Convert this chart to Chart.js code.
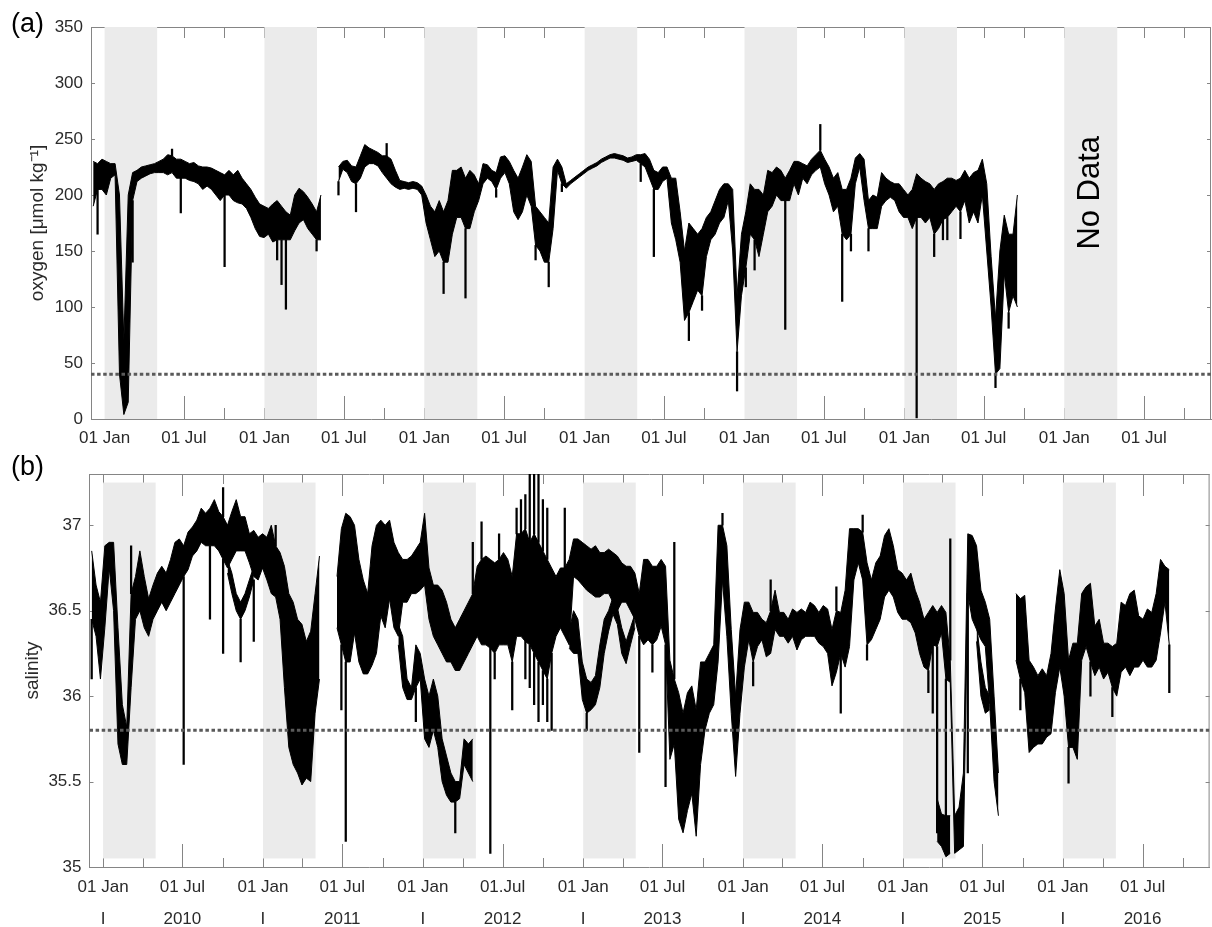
<!DOCTYPE html>
<html>
<head>
<meta charset="utf-8">
<script src="https://cdn.jsdelivr.net/npm/chart.js@4.4.1/dist/chart.umd.min.js"></script>
<style>
  html, body { margin: 0; padding: 0; background: #fff; }
  #wrap { position: relative; width: 1212px; height: 927px; overflow: hidden; background: #fff; }
  #wrap canvas { position: absolute; left: 0; }
  #oxyChart { top: 0; }
  #salChart { top: 455px; }
</style>
</head>
<body>
<div id="wrap">
  <canvas id="oxyChart" width="1212" height="455"></canvas>
  <canvas id="salChart" width="1212" height="472"></canvas>
</div>
<script>
// ------------------------------
// DATA
// ------------------------------
// day 0 = 01 Dec 2009; each bin covers 10 days: upper / lower edge of the
// dense part of the record, isolated excursions are listed as spikes
const START = Date.UTC(2009, 11, 1);
const DAY = 86400000;
const dayOf = (y, m, d) => (Date.UTC(y, m - 1, d) - START) / DAY;
const totalDays = dayOf(2016, 12, 1);
const binDays = 10;

const oxygenHigh = [
  230, 228, 232, 230, 228, 228, 200, 70, 200, 220,
  222, 225, 226, 227, 228, 230, 232, 236, 235, 232,
  232, 230, 228, 229, 226, 225, 225, 224, 222, 220,
  218, 222, 218, 222, 215, 210, 205, 198, 192, 190,
  188, 192, 195, 190, 185, 182, 200, 206, 203, 198,
  192, 185, 200, null, null, null, 225, 230, 231, 226,
  225, 235, 245, 242, 240, 238, 235, 235, 232, 222,
  213, 212, 211, 212, 211, 208, 200, 190, 185, 195,
  185, 195, 222, 222, 225, 215, 222, 218, 210, 228,
  227, 222, 220, 234, 235, 230, 222, 215, 225, 236,
  230, 190, 185, 180, 175, 225, 232, 225, 210, 213,
  216, 219, 222, 225, 227, 229, 232, 234, 236, 237,
  236, 235, 233, 234, 236, 236, 237, 232, 222, 220,
  225, 225, 215, 215, 185, 150, 175, 170, 165, 170,
  180, 185, 195, 205, 210, 210, 205, 110, 165, 185,
  210, 205, 205, 200, 222, 220, 225, 222, 215, 222,
  230, 230, 228, 226, 232, 236, 240, 232, 225, 215,
  220, 205, 205, 215, 233, 237, 232, 195, 200, 198,
  220, 215, 212, 210, 210, 205, 200, 205, 219, 215,
  212, 210, 205, 210, 212, 215, 215, 213, 215, 222,
  215, 220, 222, 232, 210, 145, 90, 150, 182, 165,
  165, 200
];
const oxygenLow = [
  190, 205, 205, 200, 215, 218, 40, 4, 15, 195,
  212, 215, 217, 219, 220, 220, 220, 218, 220, 215,
  215, 215, 213, 212, 210, 205, 208, 205, 200, 195,
  200, 200, 195, 193, 192, 188, 180, 170, 163, 162,
  165, 158, 160, 160, 160, 160, 168, 175, 178, 170,
  165, 160, 160, null, null, null, 212, 223, 220, 212,
  210, 215, 225, 228, 228, 226, 220, 215, 210, 207,
  205, 206, 205, 206, 205, 200, 175, 160, 145, 150,
  140, 140, 165, 180, 180, 170, 170, 185, 195, 210,
  215, 212, 205, 215, 220, 210, 185, 178, 185, 200,
  190, 155, 150, 140, 140, 170, 222, 210, 206, 210,
  213, 216, 219, 222, 224, 226, 229, 231, 233, 233,
  232, 231, 229, 230, 231, 228, 225, 215, 205, 205,
  212, 215, 175, 160, 140, 88, 95, 105, 115, 110,
  145, 160, 165, 175, 180, 195, 150, 60, 110, 135,
  165, 160, 145, 165, 185, 190, 200, 195, 195, 195,
  210, 200, 215, 210, 218, 222, 225, 210, 200, 185,
  190, 165, 160, 165, 210, 225, 195, 170, 170, 170,
  190, 195, 198, 195, 185, 180, 180, 170, 180, 180,
  175, 180, 165, 170, 178, 180, 185, 190, 185, 195,
  175, 185, 175, 200, 150, 100, 40, 45, 130, 95,
  110, 100
];
// [bin, value] or [bin, value, start]
const oxygenSpikes = [
  [1, 165], [9, 140], [18, 241], [20, 184], [30, 136], [42, 142], [43, 120],
  [44, 98], [51, 150], [56, 200], [60, 185], [67, 246], [80, 112], [85, 108],
  [92, 198], [101, 142], [104, 118], [107, 203], [125, 212], [128, 145],
  [136, 70], [139, 97], [147, 25], [149, 118], [151, 133], [158, 80],
  [166, 263], [171, 105], [173, 150], [177, 150], [188, 1], [192, 145],
  [194, 160], [195, 160], [198, 161], [206, 28], [209, 81]
];

const salinityHigh = [
  36.85, 36.65, 36.55, 36.88, 36.9, 36.9, 36.4, 35.95, 35.82, 36.6,
  36.7, 36.85, 36.7, 36.57, 36.65, 36.72, 36.76, 36.72, 36.8, 36.9,
  36.92, 36.88, 36.96, 36.99, 37.03, 37.1, 37.07, 37.1, 37.15, 37.08,
  37.05, 37.0, 37.08, 37.15, 37.05, 37.05, 36.95, 36.97, 36.93, 36.95,
  36.93, 37.0, 36.88, 36.84, 36.76, 36.6, 36.55, 36.45, 36.42, 36.32,
  36.38, 36.6, 36.82, null, null, null, 36.7, 36.98, 37.07, 37.05,
  37.0, 36.8, 36.68, 36.6, 36.88, 37.0, 37.03, 37.0, 37.03, 36.9,
  36.84, 36.8, 36.8, 36.82, 36.86, 36.9, 37.07, 36.75, 36.65, 36.65,
  36.62, 36.55, 36.45, 36.4, 36.45, 36.5, 36.55, 36.6, 36.76, 36.8,
  36.82, 36.8, 36.78, 36.8, 36.84, 36.8, 36.7, 36.95, 36.95, 36.98,
  36.9, 36.95, 36.9, 36.85, 36.8, 36.75, 36.7, 36.75, 36.75, 36.8,
  36.92, 36.92, 36.9, 36.88, 36.86, 36.88, 36.84, 36.84, 36.86, 36.84,
  36.82, 36.78, 36.76, 36.76, 36.72, 36.6, 36.8, 36.8, 36.76, 36.76,
  36.8, 36.76, 36.21, 36.1, 36.02, 35.9, 36.02, 36.06, 35.92, 36.2,
  36.2, 36.25, 36.3, 37.0, 37.0, 36.88, 36.39, 36.0, 36.39, 36.55,
  36.55, 36.49, 36.49, 36.45, 36.43, 36.5, 36.62, 36.49, 36.49, 36.45,
  36.51, 36.49, 36.51, 36.49, 36.55, 36.53, 36.49, 36.53, 36.51, 36.39,
  36.5, 36.49, 36.62, 36.98, 36.98, 36.98, 36.96, 36.78, 36.68, 36.78,
  36.82, 36.94, 36.98, 36.88, 36.74, 36.72, 36.68, 36.72, 36.62, 36.55,
  36.45, 36.49, 36.53, 36.49, 36.53, 36.49, 36.21, 35.3, 35.35, 35.55,
  36.95, 36.94, 36.88, 36.62, 36.55, 36.45, 36.0, 35.55, null, null,
  null, 36.6, 36.57, 36.59, 36.21, 36.17, 36.12, 36.16, 36.12, 36.25,
  36.51, 36.74, 36.6, 36.21, 36.31, 36.31, 36.6, 36.64, 36.66, 36.41,
  36.45, 36.31, 36.31, 36.29, 36.31, 36.55, 36.53, 36.6, 36.62, 36.47,
  36.45, 36.51, 36.49, 36.6, 36.8, 36.76, 36.74
];
const salinityLow = [
  36.45, 36.35, 36.1, 36.4, 36.75, 36.5, 35.72, 35.6, 35.6, 36.05,
  36.45, 36.5, 36.4, 36.35, 36.45, 36.5, 36.55, 36.5, 36.55, 36.6,
  36.65, 36.7, 36.74, 36.82, 36.85, 36.9, 36.88, 36.88, 36.88, 36.85,
  36.8, 36.75, 36.8, 36.85, 36.85, 36.85, 36.78, 36.7, 36.68, 36.75,
  36.68, 36.6, 36.58, 36.45, 36.05, 35.7, 35.6, 35.55, 35.48, 35.52,
  35.5, 35.9, 36.1, null, null, null, 36.4, 36.3, 36.2, 36.2,
  36.37, 36.2, 36.13, 36.13, 36.18, 36.25, 36.47, 36.4, 36.57, 36.4,
  36.35, 36.55, 36.55, 36.6, 36.6, 36.62, 36.65, 36.45, 36.35, 36.3,
  36.25, 36.2, 36.2, 36.15, 36.15, 36.2, 36.25, 36.3, 36.35, 36.3,
  36.3, 36.28, 36.25, 36.3, 36.3, 36.3, 36.2, 36.35, 36.35, 36.32,
  36.3, 36.25, 36.2, 36.15, 36.1, 36.25, 36.35, 36.4, 36.35, 36.3,
  36.7, 36.68, 36.65, 36.62, 36.6, 36.58, 36.58, 36.6, 36.6, 36.55,
  36.5, 36.55, 36.55, 36.5, 36.45, 36.35, 36.3, 36.33, 36.3, 36.33,
  36.41, 36.3, 35.63, 35.72, 35.28, 35.2, 35.33, 35.43, 35.18, 35.6,
  35.8, 35.9, 35.95, 36.2, 36.68, 36.35, 35.9, 35.53, 35.9, 36.17,
  36.33, 36.2, 36.29, 36.33, 36.23, 36.25, 36.39, 36.35, 36.35, 36.31,
  36.35, 36.27, 36.33, 36.35, 36.35, 36.35, 36.31, 36.29, 36.25, 36.06,
  36.14, 36.25, 36.17, 36.29, 36.68, 36.78, 36.68, 36.3, 36.33, 36.39,
  36.45, 36.58, 36.62, 36.58, 36.49, 36.45, 36.45, 36.43, 36.37, 36.25,
  36.17, 36.15, 36.3, 36.29, 36.37, 36.1, 36.08, 35.08, 35.1, 35.12,
  36.6, 36.45, 36.39, 36.33, 36.29, 35.95, 35.5, 35.3, null, null,
  null, 36.21, 36.1, 36.02, 35.67, 35.7, 35.72, 35.72, 35.76, 35.78,
  36.02, 36.17, 36.0, 35.7, 35.7, 35.63, 36.21, 36.29, 36.2, 36.12,
  36.17, 36.1, 36.14, 36.05, 36.0, 36.14, 36.17, 36.12, 36.17, 36.17,
  36.21, 36.17, 36.17, 36.21, 36.37, 36.55, 36.3
];
// second, fresher trace where the record splits: [bin, upper, lower]
const salinitySplit = [
  [31, 36.8, 36.72], [32, 36.72, 36.6], [33, 36.6, 36.5], [34, 36.55, 36.45], [35, 36.6, 36.5],
  [36, 36.68, 36.58], [37, 36.76, 36.68],
  [70, 36.42, 36.3], [71, 36.35, 36.05], [72, 36.1, 35.98], [73, 36.05, 35.98], [74, 36.3, 36.05],
  [75, 36.25, 36.1], [76, 36.1, 35.75], [77, 36.0, 35.7], [78, 36.1, 35.8], [79, 36.0, 35.7],
  [80, 35.75, 35.5], [81, 35.65, 35.42], [82, 35.55, 35.38], [83, 35.5, 35.38], [84, 35.5, 35.4],
  [85, 35.75, 35.6], [86, 35.72, 35.55], [87, 35.75, 35.5],
  [109, 36.38, 36.28], [110, 36.5, 36.25], [111, 36.45, 36.25], [112, 36.2, 35.98], [113, 36.1, 35.9],
  [114, 36.08, 35.92], [115, 36.12, 35.95], [116, 36.3, 36.05], [117, 36.45, 36.25], [118, 36.5, 36.38],
  [119, 36.58, 36.48], [120, 36.52, 36.42], [121, 36.4, 36.25], [122, 36.32, 36.19], [123, 36.4, 36.3],
  [124, 36.48, 36.4],
  [193, 35.4, 35.15], [194, 35.31, 35.12], [195, 35.3, 35.06], [196, 35.3, 35.08],
  [202, 36.42, 36.32], [203, 36.2, 36.0], [204, 36.05, 35.9], [205, 36.0, 35.92]
];
const salinitySpikes = [
  [0, 36.1], [9, 36.88], [21, 35.6], [27, 36.45], [30, 37.22], [30, 36.25], [34, 36.2],
  [37, 36.32], [42, 37.0], [57, 35.92], [58, 35.15], [74, 35.85], [83, 35.2], [87, 36.9],
  [89, 37.02], [91, 35.08], [92, 36.1], [93, 36.95], [96, 35.92], [97, 37.1], [98, 37.15],
  [99, 37.18], [99, 36.1], [100, 37.3], [100, 36.05], [101, 37.3], [101, 35.95],
  [102, 37.3], [102, 35.85], [103, 37.15], [103, 35.95], [104, 37.1], [104, 35.85],
  [105, 35.8], [108, 37.1], [113, 35.8], [125, 35.67], [128, 36.14], [131, 35.47],
  [133, 36.9], [144, 37.07], [151, 36.06], [155, 36.68], [170, 36.64], [171, 35.9],
  [176, 37.06], [177, 36.21], [191, 36.02], [192, 35.9], [193, 35.2, 36.29],
  [195, 35.2, 36.1], [196, 36.92], [200, 35.55], [212, 35.92], [223, 35.49], [228, 36.0],
  [233, 35.88], [246, 36.02]
];

const bandYears = [2010, 2011, 2012, 2013, 2014, 2015, 2016];
const oxygenLimit = 40;
const salinityLimit = 35.8;
const oxygenTicks = [0, 50, 100, 150, 200, 250, 300, 350];
const salinityTicks = [35, 35.5, 36, 36.5, 37];

// quarterly ticks on the date axis
const xTicks = [];
for (let yr = 2009; yr <= 2016; yr++) {
  for (const m of [1, 4, 7, 10]) {
    const d = dayOf(yr, m, 1);
    if (d >= 0 && d <= totalDays) xTicks.push({ value: d, year: yr, month: m });
  }
}

function oxygenLabel(t) {
  if (t.month === 1) return '01 Jan';
  if (t.month === 7) return '01 Jul';
  return '';
}

function salinityLabel(t) {
  if (t.month === 1) return ['01 Jan', 'I'];
  if (t.month === 7) return [t.year === 2012 ? '01.Jul' : '01 Jul', String(t.year)];
  return '';
}

const binX = i => i * binDays + 5;

function edgePoints(values) {
  return values.map((v, i) => ({ x: binX(i), y: v }));
}

function splitPoints(split, col, length) {
  const vals = new Array(length).fill(null);
  split.forEach(s => { vals[s[0]] = s[col]; });
  return edgePoints(vals);
}

// each spike runs from its given start, or the nearest edge of the dense trace, out to its value
function spikeBars(spikes, hi, lo, split) {
  return spikes.map(([bin, v, start]) => {
    if (start != null) return { x: binX(bin), y: [start, v] };
    const edges = [hi[bin], lo[bin]];
    const s = split.find(r => r[0] === bin);
    if (s) edges.push(s[1], s[2]);
    const base = edges.reduce((b, e) => (Math.abs(e - v) < Math.abs(b - v) ? e : b));
    return { x: binX(bin), y: [base, v] };
  });
}

// ------------------------------
// PLUGINS
// ------------------------------
const AXIS_GREY = '#858585';
const FONT = '"Liberation Sans", Arial, Helvetica, sans-serif';
Chart.defaults.font.family = FONT;
Chart.defaults.color = '#2a2a2a';

// box, inward ticks and the Jan-Apr shading
const frame = {
  id: 'frame',
  beforeDatasetsDraw(chart, args, opts) {
    const { ctx, chartArea: a, scales: { x, y } } = chart;
    ctx.save();
    ctx.strokeStyle = AXIS_GREY;
    ctx.lineWidth = 1;
    ctx.beginPath();
    ctx.moveTo(a.left, a.top + 0.5);
    ctx.lineTo(a.right, a.top + 0.5);
    ctx.moveTo(a.right - 0.5, a.top);
    ctx.lineTo(a.right - 0.5, a.bottom);

    xTicks.forEach(t => {
      const px = Math.round(x.getPixelForValue(t.value)) + 0.5;
      const isJul = t.month === 7;
      const topLen = isJul ? opts.topJul : opts.top;
      const botLen = isJul ? opts.bottomJul : opts.bottom;
      ctx.moveTo(px, a.top);
      ctx.lineTo(px, a.top + topLen);
      ctx.moveTo(px, a.bottom);
      ctx.lineTo(px, a.bottom - botLen);
    });
    opts.yTicks.forEach(v => {
      const py = Math.round(y.getPixelForValue(v)) + 0.5;
      ctx.moveTo(a.left, py);
      ctx.lineTo(a.left + 4, py);
      ctx.moveTo(a.right, py);
      ctx.lineTo(a.right - 4, py);
    });
    ctx.stroke();

    ctx.fillStyle = '#ebebeb';
    const y0 = opts.bandTop != null ? y.getPixelForValue(opts.bandTop) : a.top;
    const y1 = opts.bandBottom != null ? y.getPixelForValue(opts.bandBottom) : a.bottom;
    bandYears.forEach(yr => {
      const x0 = x.getPixelForValue(dayOf(yr, 1, 1));
      const x1 = x.getPixelForValue(dayOf(yr, 5, 1));
      ctx.fillRect(x0, y0, x1 - x0, y1 - y0);
    });
    ctx.restore();
  }
};

// panel letter and free text
const annotate = {
  id: 'annotate',
  afterDraw(chart, args, opts) {
    const { ctx, scales: { x, y } } = chart;
    ctx.save();
    ctx.fillStyle = '#000';
    ctx.textBaseline = 'middle';
    ctx.textAlign = 'left';
    ctx.font = '27px ' + FONT;
    ctx.fillText(opts.panel, opts.panelX, opts.panelY);
    if (opts.note) {
      const px = x.getPixelForValue(opts.note.day);
      const py = y.getPixelForValue(opts.note.value);
      ctx.translate(px, py);
      ctx.rotate(-Math.PI / 2);
      ctx.textAlign = 'center';
      ctx.font = '31px ' + FONT;
      ctx.fillText(opts.note.text, 0, 0);
    }
    ctx.restore();
  }
};

function dateAxis(labelFn, height, padding, lineHeight) {
  return {
    type: 'linear',
    min: 0,
    max: totalDays,
    offset: false,
    grid: { display: false, drawTicks: false, offset: false },
    border: { display: true, color: AXIS_GREY },
    afterBuildTicks: s => { s.ticks = xTicks.map(t => ({ value: t.value })); },
    afterFit: s => { s.height = height; },
    ticks: {
      autoSkip: false,
      maxRotation: 0,
      minRotation: 0,
      padding: padding,
      font: { size: 17, lineHeight: lineHeight },
      callback: (v, i) => labelFn(xTicks[i])
    }
  };
}

function valueAxis(ticks, min, max, width, title, titlePad) {
  return {
    min: min,
    max: max,
    grid: { display: false, drawTicks: false },
    border: { display: true, color: AXIS_GREY },
    afterBuildTicks: s => { s.ticks = ticks.map(v => ({ value: v })); },
    afterFit: s => { s.width = width; },
    ticks: { padding: 8, font: { size: 17 }, callback: v => String(v) },
    title: { display: true, text: title, font: { size: 19 }, padding: { top: titlePad, bottom: 0 } }
  };
}

function traceDatasets(hi, lo, split, spikes, limit) {
  const edge = { type: 'line', borderColor: '#000', borderWidth: 1, backgroundColor: '#000', order: 1 };
  const sets = [
    {
      type: 'line',
      data: [{ x: 0, y: limit }, { x: totalDays, y: limit }],
      borderColor: '#5a5a5a',
      borderWidth: 3,
      borderDash: [3.5, 2.6],
      order: 0
    },
    { ...edge, data: edgePoints(hi), fill: false },
    { ...edge, data: edgePoints(lo), fill: '-1' },
    {
      type: 'bar',
      data: spikeBars(spikes, hi, lo, split),
      backgroundColor: '#000',
      barThickness: 1.6,
      grouped: false,
      order: 1
    }
  ];
  if (split.length) {
    sets.push({ ...edge, data: splitPoints(split, 1, hi.length), fill: false });
    sets.push({ ...edge, data: splitPoints(split, 2, hi.length), fill: '-1' });
  }
  return sets;
}

function buildChart(id, cfg) {
  return new Chart(document.getElementById(id), {
    type: 'line',
    data: { datasets: cfg.datasets },
    options: {
      responsive: false,
      animation: false,
      devicePixelRatio: 1,
      layout: { padding: cfg.padding, autoPadding: false },
      elements: { point: { radius: 0 }, line: { tension: 0 } },
      plugins: {
        legend: { display: false },
        tooltip: { enabled: false },
        frame: cfg.frame,
        annotate: cfg.annotate
      },
      scales: { x: cfg.x, y: cfg.y }
    },
    plugins: [frame, annotate]
  });
}

// ------------------------------
// CHART BUILDING
// ------------------------------
buildChart('oxyChart', {
  datasets: traceDatasets(oxygenHigh, oxygenLow, [], oxygenSpikes, oxygenLimit),
  padding: { top: 27, right: 1, left: 0, bottom: 0 },
  frame: { top: 11, topJul: 11, bottom: 11, bottomJul: 23, yTicks: oxygenTicks },
  annotate: {
    panel: '(a)', panelX: 11, panelY: 25,
    note: { text: 'No Data', day: dayOf(2016, 3, 1), value: 202 }
  },
  x: dateAxis(oxygenLabel, 36, 9, 1.2),
  y: valueAxis(oxygenTicks, 0, 350, 91, 'oxygen [μmol kg⁻¹]', 26)
});

buildChart('salChart', {
  datasets: traceDatasets(salinityHigh, salinityLow, salinitySplit, salinitySpikes, salinityLimit),
  padding: { top: 19, right: 2.4, left: 0, bottom: 0 },
  frame: { top: 10, topJul: 22, bottom: 9, bottomJul: 23, yTicks: salinityTicks, bandTop: 37.25, bandBottom: 35.05 },
  annotate: { panel: '(b)', panelX: 11, panelY: 13 },
  x: dateAxis(salinityLabel, 60, 4, '32px'),
  y: valueAxis(salinityTicks, 35, 37.3, 89.5, 'salinity', 21)
});
</script>
</body>
</html>
